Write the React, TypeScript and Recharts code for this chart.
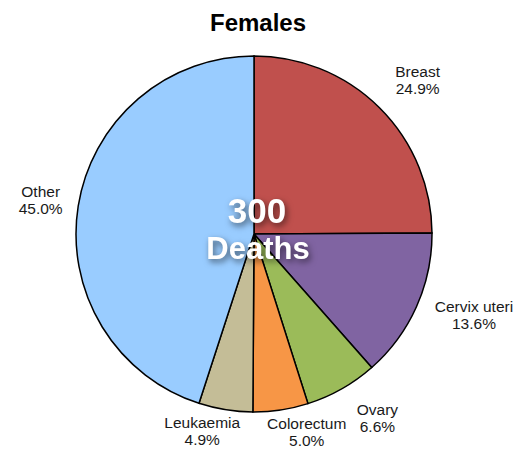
import { PieChart, Pie, Cell } from 'recharts'

const CATEGORIES = ['Breast', 'Cervix uteri', 'Ovary', 'Colorectum', 'Leukaemia', 'Other']
const SHARES = [24.9, 13.6, 6.6, 5.0, 4.9, 45.0]
const TOTAL_DEATHS = 300
const COLORS = ['#C0504D', '#8064A2', '#9BBB59', '#F79646', '#C4BD97', '#99CCFF']
// per-label nudge [dx, dy] from the default outside position
const NUDGE: [number, number][] = [[10, 1], [21, -8], [16, -6], [20, -18], [-17, -18], [2, 0]]

const data = CATEGORIES.map((name, i) => ({ name, value: SHARES[i] }))
const FONT = '"Liberation Sans", Arial, Helvetica, sans-serif'

function Lbl({ cx, cy, midAngle, outerRadius, index }: {
  cx: number; cy: number; midAngle: number; outerRadius: number; index: number
}) {
  const R = Math.PI / 180
  const rr = outerRadius + 40
  const x = cx + rr * Math.cos(-midAngle * R) + NUDGE[index][0]
  const y = cy + rr * Math.sin(-midAngle * R) + NUDGE[index][1]
  return (
    <text x={x} y={y - 3} textAnchor="middle" fontSize={15.5} fontFamily={FONT} fill="#1a1a1a">
      <tspan x={x}>{data[index].name}</tspan>
      <tspan x={x} dy={17}>{`${data[index].value.toFixed(1)}%`}</tspan>
    </text>
  )
}

export default function App() {
  return (
    <div style={{ position: 'absolute', left: 0, top: 0, width: 529, height: 451, background: '#fff', fontFamily: FONT }}>
      <PieChart width={529} height={451} margin={{ top: 0, right: 0, bottom: 0, left: 0 }}>
        <text x={258} y={31} textAnchor="middle" fontSize={24} fontWeight={700} fontFamily={FONT} fill="#000">Females</text>
        <Pie data={data} dataKey="value" nameKey="name" cx={254} cy={234} outerRadius={178}
          startAngle={90} endAngle={-270} stroke="#000" strokeWidth={1.5}
          labelLine={false} label={Lbl as any} isAnimationActive={false}>
          {data.map((_, i) => <Cell key={i} fill={COLORS[i]} />)}
        </Pie>
      </PieChart>
      {/* centre caption drawn on top of the slices */}
      <svg width={529} height={451} style={{ position: 'absolute', left: 0, top: 0, pointerEvents: 'none', overflow: 'visible' }}>
        <g style={{ filter: 'drop-shadow(2px 3px 3px rgba(0,0,0,0.55))' }}>
          <text x={257} y={223} textAnchor="middle" fontSize={35} fontWeight={700} fontFamily={FONT} fill="#fff">{TOTAL_DEATHS}</text>
          <text x={258} y={259} textAnchor="middle" fontSize={31} fontWeight={700} fontFamily={FONT} fill="#fff">Deaths</text>
        </g>
      </svg>
    </div>
  )
}
